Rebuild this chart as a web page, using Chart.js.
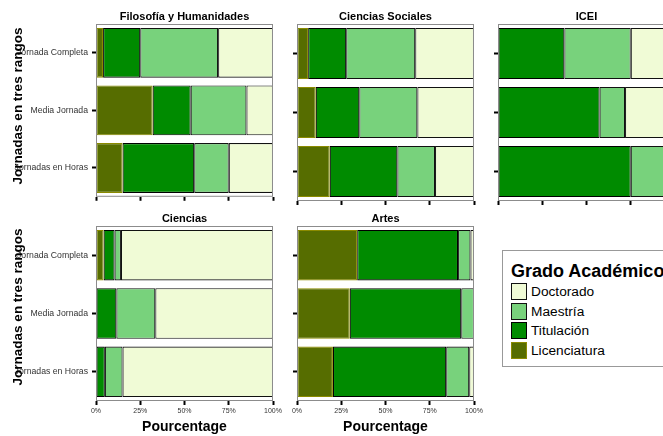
<!DOCTYPE html>
<html>
<head>
<meta charset="utf-8">
<script src="https://cdn.jsdelivr.net/npm/chart.js@4"></script>
<style>
  html, body { margin: 0; padding: 0; background: #fff; overflow: hidden; }
  #wrap { position: relative; width: 700px; height: 436px; font-family: "Liberation Sans", Arial, sans-serif; }
  #wrap canvas { position: absolute; }
  .ytitle { position: absolute; font-weight: bold; font-size: 13.5px; line-height: 1; white-space: nowrap;
            color: #000; transform: translate(-50%, -50%) rotate(-90deg); }
  .legend { position: absolute; left: 502px; top: 250px; width: 200px; height: 117px; box-sizing: border-box;
            border: 1px solid #999; background: #fff; }
  .legend .ttl { position: absolute; left: 8px; top: 10.7px; font-weight: bold; font-size: 18px; line-height: 1; white-space: nowrap; }
  .legend .key { position: absolute; left: 8px; width: 16px; height: 17px; box-sizing: border-box; border: 1.5px solid #222; }
  .legend .lab { position: absolute; left: 28px; font-size: 13.7px; line-height: 17px; white-space: nowrap; color: #000; }
</style>
</head>
<body>
<div id="wrap"></div>
<script>
const facets   = ['Filosofía y Humanidades', 'Ciencias Sociales', 'ICEI', 'Ciencias', 'Artes'];
const jornadas = ['Jornada Completa', 'Media Jornada', 'Jornadas en Horas'];
const grados   = ['Licenciatura', 'Titulación', 'Maestría', 'Doctorado'];
const legendOrder = ['Doctorado', 'Maestría', 'Titulación', 'Licenciatura'];
const xTicks   = [0, 25, 50, 75, 100];

// % per facet, each triple follows jornadas
const licenciatura = [[4, 32, 15], [6.3, 10.6, 18.5], [0, 0, 0], [4.3, 0, 0], [34, 29.8, 20.3]];
const titulacion   = [[21, 21.5, 40.5], [21.5, 24.6, 38.2], [37.5, 57.4, 75], [6.2, 11.5, 5], [57, 63, 64]];
const maestria     = [[44, 31.5, 19.5], [39, 32.8, 21.3], [37.5, 14.4, 25], [3.6, 22, 10], [7, 7.2, 13]];
const doctorado    = [[31, 15, 25], [33.2, 32, 22], [25, 28.2, 0], [85.9, 66.5, 85], [2, 0, 2.7]];

const series  = [licenciatura, titulacion, maestria, doctorado];
const fills   = ['#566d00', '#008b00', '#78d27c', '#f0fbd6'];
const borders = ['#8b8b00', '#000', '#111', '#111'];

Chart.defaults.font.family = '"Liberation Sans", Arial, sans-serif';

// layout of the facet grid
const colLeft = [96, 297, 498];
const panelW = 177;
const rowTop = [24, 226], rowBottom = [201, 401];
const canvasTop = [0, 205], canvasBottom = [206, 436];
const titlePad = [{ top: 10.1, bottom: 0.7 }, { top: 7.8, bottom: 0 }];

const panelBorder = {
  id: 'panelBorder',
  afterDatasetsDraw(chart) {
    const { ctx, chartArea: a } = chart;
    ctx.save();
    ctx.strokeStyle = '#8c8c8c';
    ctx.lineWidth = 1;
    ctx.strokeRect(a.left + 0.5, a.top + 0.5, a.width - 1, a.height - 1);
    ctx.restore();
  }
};

const wrap = document.getElementById('wrap');

facets.forEach((name, i) => {
  const row = i < 3 ? 0 : 1;
  const col = i < 3 ? i : i - 3;
  const yW = col === 0 ? 96 : 10;
  const xH = canvasBottom[row] - rowBottom[row];

  const cv = document.createElement('canvas');
  cv.width  = yW + panelW + 12;
  cv.height = canvasBottom[row] - canvasTop[row];
  cv.style.left = (colLeft[col] - yW) + 'px';
  cv.style.top  = canvasTop[row] + 'px';
  wrap.appendChild(cv);

  const datasets = grados.map((g, k) => ({
    label: g,
    data: series[k][i],
    backgroundColor: fills[k],
    borderColor: borders[k],
    borderWidth: 1.1,
    borderSkipped: false,
    categoryPercentage: 1,
    barPercentage: 0.865
  }));

  new Chart(cv, {
    type: 'bar',
    data: { labels: jornadas, datasets },
    options: {
      indexAxis: 'y',
      responsive: false,
      animation: false,
      devicePixelRatio: 1,
      layout: { padding: { left: 0, right: 12, top: 0, bottom: 0 } },
      plugins: {
        legend: { display: false },
        tooltip: { enabled: false },
        title: { display: true, text: name, fullSize: false, color: '#000',
                 font: { size: 11, weight: 'bold' }, padding: titlePad[row] }
      },
      scales: {
        x: {
          type: 'linear', stacked: true, min: 0, max: 100,
          afterBuildTicks: s => { s.ticks = xTicks.map(v => ({ value: v })); },
          afterFit: s => { s.height = xH; },
          ticks: { display: row === 1, autoSkip: false, maxRotation: 0, padding: 2,
                   color: '#333', font: { size: 7 }, callback: v => v + '%' },
          grid: { drawOnChartArea: false, drawTicks: true, tickLength: 4, tickWidth: 2, tickColor: '#000' },
          border: { display: false },
          title: { display: row === 1, text: 'Pourcentage', color: '#000',
                   font: { size: 14, weight: 'bold' }, padding: { top: 0, bottom: 0.75 } }
        },
        y: {
          stacked: true,
          afterFit: s => { s.width = yW; },
          ticks: { display: col === 0, padding: 4, color: '#333', font: { size: 8.7 } },
          grid: { offset: false, drawOnChartArea: false, drawTicks: true, tickLength: 4, tickWidth: 2, tickColor: '#000' },
          border: { display: false }
        }
      }
    },
    plugins: [panelBorder]
  });
});

// y axis titles, one per row
[105.5, 307].forEach(cy => {
  const t = document.createElement('div');
  t.className = 'ytitle';
  t.textContent = 'Jornadas en tres rangos';
  t.style.left = '17.7px';
  t.style.top = cy + 'px';
  wrap.appendChild(t);
});

// legend
const lg = document.createElement('div');
lg.className = 'legend';
lg.innerHTML = '<div class="ttl">Grado Académico</div>' +
  legendOrder.map((g, n) => {
    const k = grados.indexOf(g);
    const top = 32 + n * 19.7;
    return `<div class="key" style="top:${top}px; background:${fills[k]}; border-color:${borders[k]}"></div>` +
           `<div class="lab" style="top:${top}px">${g}</div>`;
  }).join('');
wrap.appendChild(lg);
</script>
</body>
</html>
